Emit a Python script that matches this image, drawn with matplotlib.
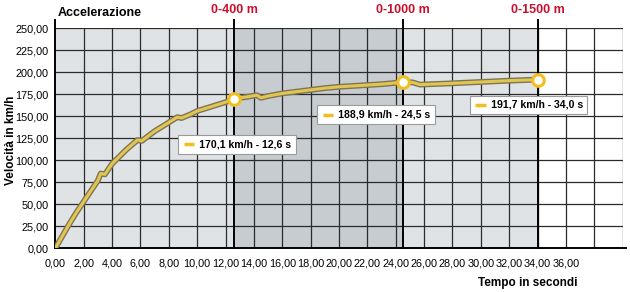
import matplotlib
matplotlib.use("Agg")
import matplotlib.pyplot as plt
import matplotlib.patheffects as pe

# curve (seconds, km/h)
tempo = [0, 0.5, 1, 1.5, 2, 2.5, 3, 3.2, 3.5, 4, 4.5, 5, 5.5, 5.8, 6.1, 6.5, 7, 7.5, 8,
         8.6, 8.9, 9.5, 10, 11, 12, 12.6, 13.5, 14.2, 14.5, 15, 16, 17, 18, 19, 20, 21,
         22, 23, 24, 24.5, 25.2, 25.7, 26.5, 28, 30, 32, 34]
velocita = [0, 14, 28, 41, 53, 65, 77, 85, 84, 96, 104, 112, 119, 123, 122, 127, 133, 138, 143,
            149, 148, 152, 156, 161, 166, 170.1, 172, 174, 171, 173, 176, 178, 180, 182, 183.5, 184.5,
            185.5, 186.5, 188, 188.9, 188.5, 186, 186.5, 187.5, 189, 190.5, 191.7]

tappe_t = [12.6, 24.5, 34.0]
tappe_v = [170.1, 188.9, 191.7]
tappe_nomi = ["0-400 m", "0-1000 m", "0-1500 m"]
etichette = ["170,1 km/h - 12,6 s", "188,9 km/h - 24,5 s", "191,7 km/h - 34,0 s"]
etichette_pos = [(8.95, 118), (18.75, 152), (29.5, 163)]

x_ticks = list(range(0, 38, 2))
y_ticks = list(range(0, 275, 25))

plt.rcParams['font.family'] = ['Liberation Sans', 'DejaVu Sans']

fig = plt.figure(figsize=(6.3, 2.92), dpi=100)
ax = fig.add_axes([0.0878, 0.1497, 0.9006, 0.7534])
ax.set_xlim(0, 40)
ax.set_ylim(0, 250)

# fasce di sfondo
ax.axvspan(0, tappe_t[0], color='#e0e3e6', zorder=0)
ax.axvspan(tappe_t[0], tappe_t[1], color='#c7ccd0', zorder=0)
ax.axvspan(tappe_t[1], tappe_t[2], color='#e0e3e6', zorder=0)

for x in range(2, 42, 2):
    ax.axvline(x, color='#2b2b2b', lw=0.9, zorder=1)
for y in y_ticks[1:]:
    ax.axhline(y, color='#2b2b2b', lw=0.9, zorder=1)

for t, nome in zip(tappe_t, tappe_nomi):
    ax.plot([t, t], [0, 259], color='black', lw=1.4, clip_on=False, zorder=2)
    ax.text(t, 271, nome, color='#c8102e', fontsize=9, fontweight='bold',
            ha='center', va='center', clip_on=False)

ax.plot(tempo, velocita, color='#e3c552', lw=2.2, zorder=4, solid_capstyle='round',
        path_effects=[pe.Stroke(linewidth=4.2, foreground='#7c7658'), pe.Normal()])
ax.scatter(tappe_t, tappe_v, s=70, facecolor='white', edgecolor='#f2bf1e', linewidth=2.2, zorder=5)

# riquadri con i valori
for (ex, ey), txt in zip(etichette_pos, etichette):
    ax.annotate("      " + txt, (ex, ey), fontsize=7.6, fontweight='bold', va='center',
                ha='left', zorder=6,
                bbox=dict(boxstyle='square,pad=0.4', fc='white', ec='#9a9a9a', lw=0.8))
    ax.plot([ex + 0.12, ex + 0.85], [ey, ey], color='#f2bf1e', lw=2.5, zorder=7,
            solid_capstyle='butt')

for s in ['top', 'right', 'left', 'bottom']:
    ax.spines[s].set_visible(False)
ax.plot([0, 0], [0, 259], color='black', lw=1.4, clip_on=False, zorder=3)
ax.plot([0, 40.2], [0, 0], color='black', lw=1.4, clip_on=False, zorder=3)

ax.set_xticks(x_ticks)
ax.set_xticklabels([f"{x:.2f}".replace('.', ',') for x in x_ticks], fontsize=7.8)
ax.set_yticks(y_ticks)
ax.set_yticklabels([f"{y:.2f}".replace('.', ',') for y in y_ticks], fontsize=7.8)
ax.tick_params(length=0, pad=5)
ax.tick_params(axis='x', pad=7)

fig.text(0.091, 0.955, "Accelerazione", fontsize=9, fontweight='bold', va='center')
fig.text(0.018, 0.52, "Velocità in km/h", fontsize=8.5, fontweight='bold', rotation=90,
         va='center', ha='center')
fig.text(0.838, 0.03, "Tempo in secondi", fontsize=8.5, fontweight='bold', ha='center', va='center')

fig.savefig("out.png", dpi=100)
